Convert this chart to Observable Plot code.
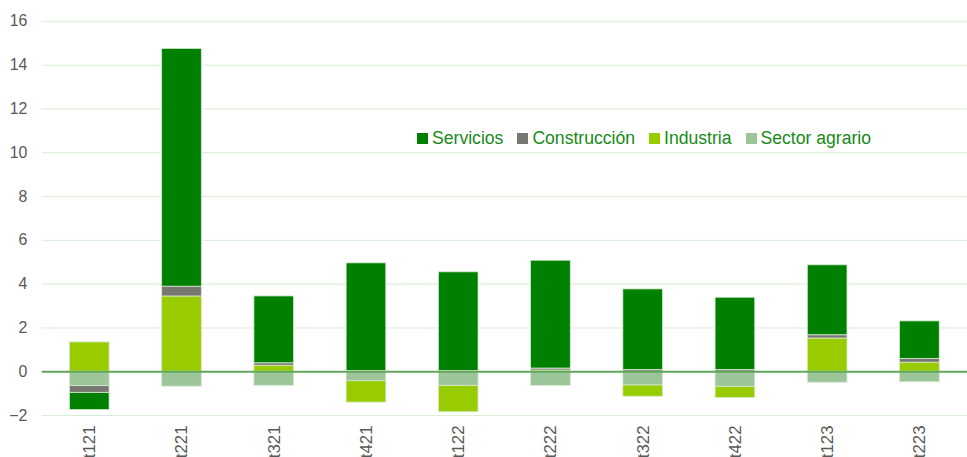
<!DOCTYPE html>
<html>
<head>
<meta charset="utf-8">
<script src="https://cdn.jsdelivr.net/npm/d3@7"></script>
<script src="https://cdn.jsdelivr.net/npm/@observablehq/plot@0.6"></script>
<style>
  html, body { margin: 0; padding: 0; background: #fff; overflow: hidden; }
  #wrap { position: relative; width: 967px; height: 457px; overflow: hidden; font-family: "Liberation Sans", Arial, sans-serif; }
  #legend { position: absolute; left: 417px; top: 128px; display: flex; gap: 14px; font-size: 17.6px; color: #178a17; white-space: nowrap; }
  #legend .item { display: flex; align-items: center; }
  #legend .sw { width: 11px; height: 11px; margin-right: 4px; display: inline-block; }
</style>
</head>
<body>
<div id="wrap"><div id="chart"></div><div id="legend"></div></div>
<script>
const periods = ["t121","t221","t321","t421","t122","t222","t322","t422","t123","t223"];
const sectors = ["Servicios","Construcción","Industria","Sector agrario"];
const stackOrder = ["Sector agrario","Industria","Construcción","Servicios"];
const colors = ["#008000","#787872","#99cc00","#9cc59a"];
const servicios    = [-0.79, 10.86, 3.06, 4.92, 4.51, 4.93, 3.68, 3.30, 3.20, 1.72];
const construccion = [-0.31,  0.45, 0.11, 0.03, 0.03, 0.09, 0.08, 0.08, 0.15, 0.17];
const industria    = [ 1.34,  3.43, 0.27, -0.98, -1.21, 0.05, -0.52, -0.52, 1.51, 0.41];
const agrario      = [-0.65, -0.68, -0.64, -0.43, -0.64, -0.65, -0.62, -0.68, -0.50, -0.48];
const yTicks = [-2, 0, 2, 4, 6, 8, 10, 12, 14, 16];

const series = {"Servicios": servicios, "Construcción": construccion, "Industria": industria, "Sector agrario": agrario};
const rows = periods.flatMap((p, i) => sectors.map(s => ({periodo: p, sector: s, valor: series[s][i]})));

const chart = Plot.plot({
  width: 975,
  height: 457,
  marginLeft: 42,
  marginRight: 0,
  marginTop: 21,
  marginBottom: 38.5,
  style: {fontFamily: "Liberation Sans, Arial, sans-serif", fontSize: "16px", color: "#595959", overflow: "visible"},
  x: {type: "band", domain: periods, paddingInner: 0.57, paddingOuter: 0.285, label: null},
  y: {domain: [-2, 16], label: null},
  color: {domain: sectors, range: colors},
  marks: [
    Plot.ruleY(yTicks.filter(d => d !== 0), {stroke: "#d9ecd4", strokeWidth: 1}),
    Plot.barY(rows, Plot.stackY({order: stackOrder}, {x: "periodo", y: "valor", fill: "sector", stroke: "#d6ead0", strokeWidth: 0.8})),
    Plot.ruleY([0], {stroke: "#5fa85a", strokeWidth: 2}),
    Plot.axisY({ticks: yTicks, tickSize: 0, tickPadding: 15, fill: "#595959", fontSize: 16, label: null}),
    Plot.axisX({tickSize: 0, tickRotate: -90, tickPadding: 10, fill: "#595959", fontSize: 17, label: null})
  ]
});
document.getElementById("chart").appendChild(chart);

const legend = document.getElementById("legend");
sectors.forEach((s, i) => {
  const it = document.createElement("div");
  it.className = "item";
  it.innerHTML = `<span class="sw" style="background:${colors[i]}"></span><span>${s}</span>`;
  legend.appendChild(it);
});
</script>
</body>
</html>
